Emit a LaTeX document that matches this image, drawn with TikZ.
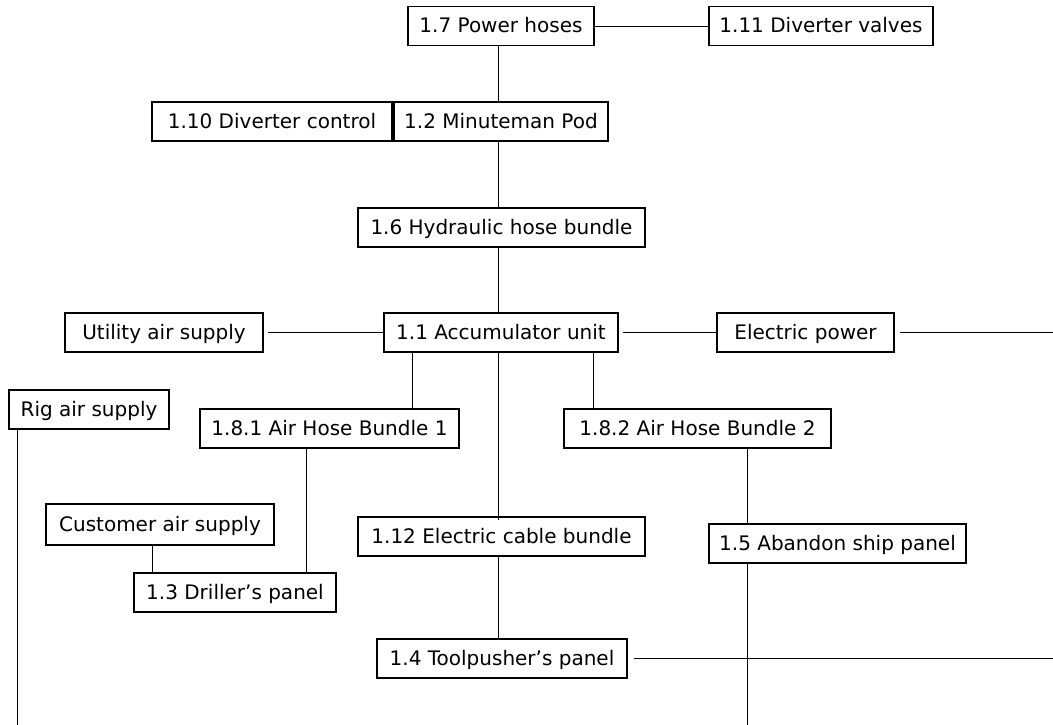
\documentclass[tikz,border=0pt]{standalone}
\usepackage{fontspec}
\setmainfont{DejaVu Sans}
\begin{document}
\begin{tikzpicture}[x=1pt,y=-1pt,
  box/.style={draw, line width=1.1pt, inner sep=0pt, minimum height=39pt, text height=15pt, text depth=1.5pt, align=center, font=\fontsize{20}{23}\selectfont},
  conn/.style={line width=0.9pt}]
\useasboundingbox (0,0) rectangle (1053,725);
% boxes
\node[box, minimum width=186pt] (pwr) at (501,26) {1.7 Power hoses};
\node[box, minimum width=224pt] (dv) at (821,26) {1.11 Diverter valves};
\node[box, minimum width=240pt] (dc) at (272,121.5) {1.10 Diverter control};
\node[box, minimum width=214pt] (mp) at (501,121.5) {1.2 Minuteman Pod};
\node[box, minimum width=287pt] (hh) at (501.5,227.5) {1.6 Hydraulic hose bundle};
\node[box, minimum width=234pt] (acc) at (501,332.5) {1.1 Accumulator unit};
\node[box, minimum width=198pt] (ua) at (164,332.5) {Utility air supply};
\node[box, minimum width=177pt] (ep) at (805.5,332.5) {Electric power};
\node[box, minimum width=160pt] (rig) at (89,409.5) {Rig air supply};
\node[box, minimum width=259pt] (ah1) at (329.5,428.5) {1.8.1 Air Hose Bundle 1};
\node[box, minimum width=267pt] (ah2) at (697.5,428.5) {1.8.2 Air Hose Bundle 2};
\node[box, minimum width=228pt, minimum height=41pt] (cas) at (160,524.5) {Customer air supply};
\node[box, minimum width=202pt] (dp) at (235,592.5) {1.3 Driller's panel};
\node[box, minimum width=287pt] (ecb) at (501.5,536.5) {1.12 Electric cable bundle};
\node[box, minimum width=250pt] (tp) at (502,658.5) {1.4 Toolpusher's panel};
\node[box, minimum width=257pt] (asp) at (837.5,543.5) {1.5 Abandon ship panel};
% helper coordinates
\coordinate (xm) at (498,0);
\coordinate (x412) at (412,0);
\coordinate (x593) at (593,0);
\coordinate (x306) at (306,0);
\coordinate (x747) at (747,0);
\coordinate (x152) at (152,0);
\coordinate (x17) at (17,0);
\coordinate (epEnd) at (1053,332.5);
\coordinate (tpEnd) at (1053,658.5);
\coordinate (rigEnd) at (17,725);
\coordinate (aspEnd) at (747,725);
% connectors
\draw[conn] (pwr.east) -- (dv.west);
\draw[conn] (pwr.south -| xm) -- (mp.north -| xm);
\draw[conn] (mp.south -| xm) -- (hh.north -| xm);
\draw[conn] (hh.south -| xm) -- (acc.north -| xm);
\draw[conn] ([xshift=4pt]ua.east) -- (acc.west);
\draw[conn] ([xshift=4pt]acc.east) -- (ep.west);
\draw[conn] ([xshift=5pt]ep.east) -- (epEnd);
\draw[conn] (acc.south -| x412) -- (ah1.north -| x412);
\draw[conn] (acc.south -| x593) -- (ah2.north -| x593);
\draw[conn] (acc.south -| xm) -- ([yshift=-4pt]ecb.north -| xm);
\draw[conn] (ah1.south -| x306) -- (dp.north -| x306);
\draw[conn] (cas.south -| x152) -- (dp.north -| x152);
\draw[conn] (ecb.south -| xm) -- (tp.north -| xm);
\draw[conn] ([xshift=6pt]tp.east) -- (tpEnd);
\draw[conn] (ah2.south -| x747) -- (asp.north -| x747);
\draw[conn] (asp.south -| x747) -- (aspEnd);
\draw[conn] (rig.south -| x17) -- (rigEnd);
\end{tikzpicture}
\end{document}
